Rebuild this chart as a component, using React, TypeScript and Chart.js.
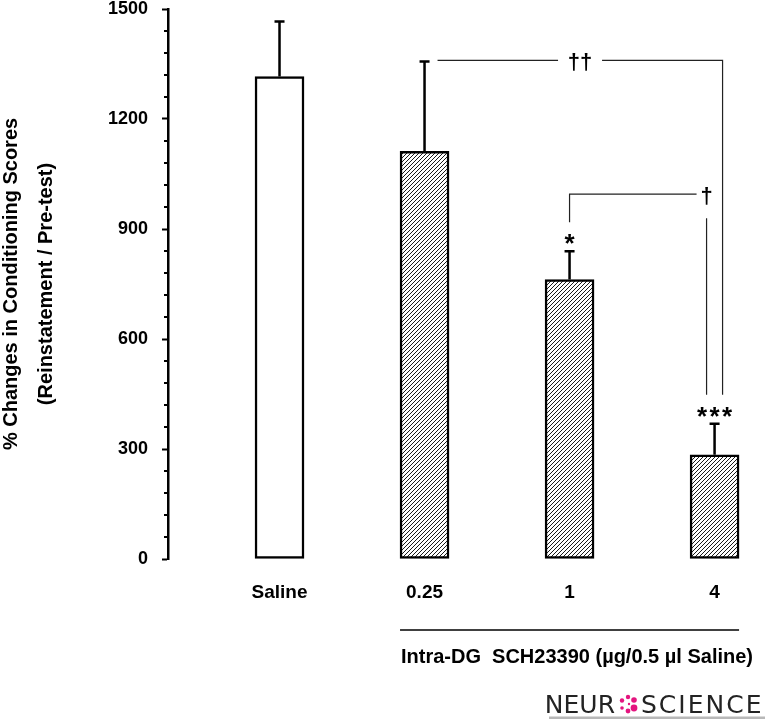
import React, { useEffect, useRef } from 'react';
import { Chart, registerables } from 'chart.js';

Chart.register(...registerables);

const FONT = 'Arial, "Liberation Sans", sans-serif';

// ---- data ----
const categories = ['Saline', '0.25', '1', '4'];
const meanValues = [1316, 1112, 762, 284];
const semValues = [150, 245, 77, 85];
const hatched = [false, true, true, true];
const starLabels = ['', '', '*', '***'];
const yMin = 0;
const yMax = 1500;
const yStep = 300;
const yMinorStep = 60;
const yTitle = ['% Changes in Conditioning Scores', '(Reinstatement / Pre-test)'];
const xTitle = 'Intra-DG  SCH23390 (\u00b5g/0.5 \u00b5l Saline)';
const groupFrom = 1;
const groupTo = 3;
const brackets = [
  { from: 1, to: 3, level: 1360, label: '\u2020\u2020', style: 'open' },
  { from: 2, to: 3, level: 995, label: '\u2020', style: 'corner' },
];
const logoLeft = 'NEUR';
const logoRight = 'SCIENCE';

function makeHatch(): CanvasPattern | string {
  const c = document.createElement('canvas');
  const s = 4;
  c.width = s;
  c.height = s;
  const g = c.getContext('2d');
  if (!g) return '#888';
  g.fillStyle = '#ffffff';
  g.fillRect(0, 0, s, s);
  g.strokeStyle = '#1a1a1a';
  g.lineWidth = 1;
  g.beginPath();
  g.moveTo(-1, s + 1);
  g.lineTo(s + 1, -1);
  g.moveTo(-1, 1);
  g.lineTo(1, -1);
  g.moveTo(s - 1, s + 1);
  g.lineTo(s + 1, s - 1);
  g.stroke();
  const p = g.createPattern(c, 'repeat');
  return p || '#888';
}

const annotate = {
  id: 'annotate',
  afterDatasetsDraw(chart: any) {
    const ctx = chart.ctx as CanvasRenderingContext2D;
    const xs = chart.scales.x;
    const ys = chart.scales.y;
    const px = (v: number) => xs.getPixelForValue(v);
    const py = (v: number) => ys.getPixelForValue(v);
    ctx.save();
    // error bars (upward)
    ctx.strokeStyle = '#000';
    ctx.lineWidth = 2.5;
    meanValues.forEach((m, i) => {
      const x = px(i);
      const y0 = py(m);
      const y1 = py(m + semValues[i]);
      ctx.beginPath();
      ctx.moveTo(x, y0);
      ctx.lineTo(x, y1);
      ctx.moveTo(x - 5, y1);
      ctx.lineTo(x + 5, y1);
      ctx.stroke();
    });
    // stars
    ctx.fillStyle = '#000';
    const sf = 26;
    ctx.font = `bold ${sf}px ${FONT}`;
    ctx.textAlign = 'center';
    ctx.textBaseline = 'alphabetic';
    starLabels.forEach((s, i) => {
      if (!s) return;
      const cy = py(meanValues[i] + semValues[i]) - 14;
      const n = s.length;
      for (let k = 0; k < n; k++) {
        ctx.fillText('*', px(i) + (k - (n - 1) / 2) * 12.5, cy + 0.57 * sf);
      }
    });
    // significance brackets
    const legEnd = (i: number) => py(meanValues[i] + semValues[i]) - 29;
    ctx.strokeStyle = '#222';
    ctx.lineWidth = 1.2;
    const df = 22;
    ctx.font = `bold ${df}px ${FONT}`;
    brackets.forEach((b) => {
      const y = py(b.level);
      if (b.style === 'open') {
        const xa = px(b.from) + 13;
        const xb = px(b.to) + 8;
        const xm = (xa + xb) / 2;
        ctx.beginPath();
        ctx.moveTo(xa, y);
        ctx.lineTo(xm - 22, y);
        ctx.moveTo(xm + 22, y);
        ctx.lineTo(xb, y);
        ctx.lineTo(xb, legEnd(b.to));
        ctx.stroke();
        ctx.fillText(b.label, xm, y + 9);
      } else {
        const xa = px(b.from);
        const xb = px(b.to) - 8;
        ctx.beginPath();
        ctx.moveTo(xa, legEnd(b.from));
        ctx.lineTo(xa, y);
        ctx.lineTo(xb - 10, y);
        ctx.moveTo(xb, y + 24);
        ctx.lineTo(xb, legEnd(b.to));
        ctx.stroke();
        ctx.fillText(b.label, xb, y + 9);
      }
    });
    ctx.restore();
  },
  afterDraw(chart: any) {
    const ctx = chart.ctx as CanvasRenderingContext2D;
    const xs = chart.scales.x;
    const ys = chart.scales.y;
    const area = chart.chartArea;
    ctx.save();
    // minor ticks on y axis
    ctx.strokeStyle = '#000';
    ctx.lineWidth = 2;
    ctx.beginPath();
    for (let v = yMin + yMinorStep; v < yMax; v += yMinorStep) {
      if (v % yStep === 0) continue;
      const y = Math.round(ys.getPixelForValue(v));
      ctx.moveTo(area.left - 4, y);
      ctx.lineTo(area.left, y);
    }
    ctx.stroke();
    // group underline
    const half = 24.5;
    const gy = ys.getPixelForValue(yMin) + 71;
    ctx.lineWidth = 1.5;
    ctx.beginPath();
    ctx.moveTo(xs.getPixelForValue(groupFrom) - half, gy);
    ctx.lineTo(xs.getPixelForValue(groupTo) + half, gy);
    ctx.stroke();
    // logo
    const W = chart.width;
    const H = chart.height;
    ctx.fillStyle = '#232323';
    ctx.font = `25px "DejaVu Sans", sans-serif`;
    ctx.textBaseline = 'alphabetic';
    ctx.textAlign = 'right';
    (ctx as any).letterSpacing = '0px';
    ctx.fillText(logoLeft, W - 150, H - 6);
    ctx.textAlign = 'left';
    (ctx as any).letterSpacing = '2px';
    ctx.fillText(logoRight, W - 124, H - 6);
    (ctx as any).letterSpacing = '0px';
    // logo icon (pink cluster)
    const cx = W - 137;
    const cy = H - 15;
    ctx.fillStyle = '#e4157f';
    const dots = [
      [0, -7, 2.2], [6, -4, 2.8], [6, 4, 3.4], [0, 7, 2.4], [-6, 4, 1.8], [-6, -3.5, 2.2], [1, 0, 1.2],
    ];
    dots.forEach(([dx, dy, r]) => {
      ctx.beginPath();
      ctx.arc(cx + dx, cy + dy, r, 0, Math.PI * 2);
      ctx.fill();
    });
    ctx.fillStyle = '#b8b8b8';
    ctx.fillRect(W - 216, H - 2.5, 216, 2.5);
    ctx.restore();
  },
};

export default function App() {
  const ref = useRef<HTMLCanvasElement>(null);
  useEffect(() => {
    if (!ref.current) return;
    const hatch = makeHatch();
    const chart = new Chart(ref.current, {
      type: 'bar',
      data: {
        datasets: [
          {
            data: categories.map((_, i) => ({ x: i, y: meanValues[i] })),
            backgroundColor: hatched.map((h) => (h ? hatch : '#ffffff')),
            borderColor: '#000',
            borderWidth: 2.5,
            borderSkipped: false,
            barThickness: 49,
          } as any,
        ],
      },
      options: {
        responsive: false,
        animation: false,
        layout: { padding: { top: 9, right: 12, left: 0, bottom: 0 } },
        plugins: { legend: { display: false }, tooltip: { enabled: false } },
        scales: {
          x: {
            type: 'linear',
            min: -0.769,
            max: 3.265,
            offset: false,
            grid: { display: false, drawTicks: false },
            border: { display: false },
            afterBuildTicks: (scale: any) => {
              scale.ticks = categories.map((_, i) => ({ value: i }));
            },
            afterFit: (scale: any) => {
              scale.height = 160;
            },
            ticks: {
              autoSkip: false,
              maxRotation: 0,
              padding: 22,
              color: '#000',
              font: { family: FONT, size: 19, weight: 'bold', lineHeight: 1.2 },
              callback: (v: any) => categories[Number(v)] ?? '',
            },
            title: {
              display: true,
              text: xTitle,
              align: 'end',
              color: '#000',
              font: { family: FONT, size: 20, weight: 'bold', lineHeight: 1.2 },
              padding: { top: 0, bottom: 50 },
            },
          },
          y: {
            min: yMin,
            max: yMax,
            afterFit: (scale: any) => {
              scale.width = 168;
              scale.paddingTop = 9;
              scale.paddingBottom = 9;
            },
            ticks: {
              stepSize: yStep,
              padding: 14,
              color: '#000',
              font: { family: FONT, size: 18, weight: 'bold', lineHeight: 1 },
              callback: (v: any) => String(v),
            },
            grid: {
              drawOnChartArea: false,
              drawTicks: true,
              tickLength: 6,
              tickWidth: 2,
              tickColor: '#000',
            },
            border: { display: true, color: '#000', width: 2.5 },
            title: {
              display: true,
              text: yTitle,
              color: '#000',
              font: { family: FONT, size: 20, weight: 'bold', lineHeight: 1.75 },
              padding: { top: -6.5, bottom: 0 },
            },
          },
        },
      } as any,
      plugins: [annotate],
    });
    return () => chart.destroy();
  }, []);
  return (
    <div style={{ position: 'absolute', left: 0, top: 0, width: 765, height: 719, background: '#fff' }}>
      <canvas ref={ref} width={765} height={719} style={{ display: 'block' }} />
    </div>
  );
}
